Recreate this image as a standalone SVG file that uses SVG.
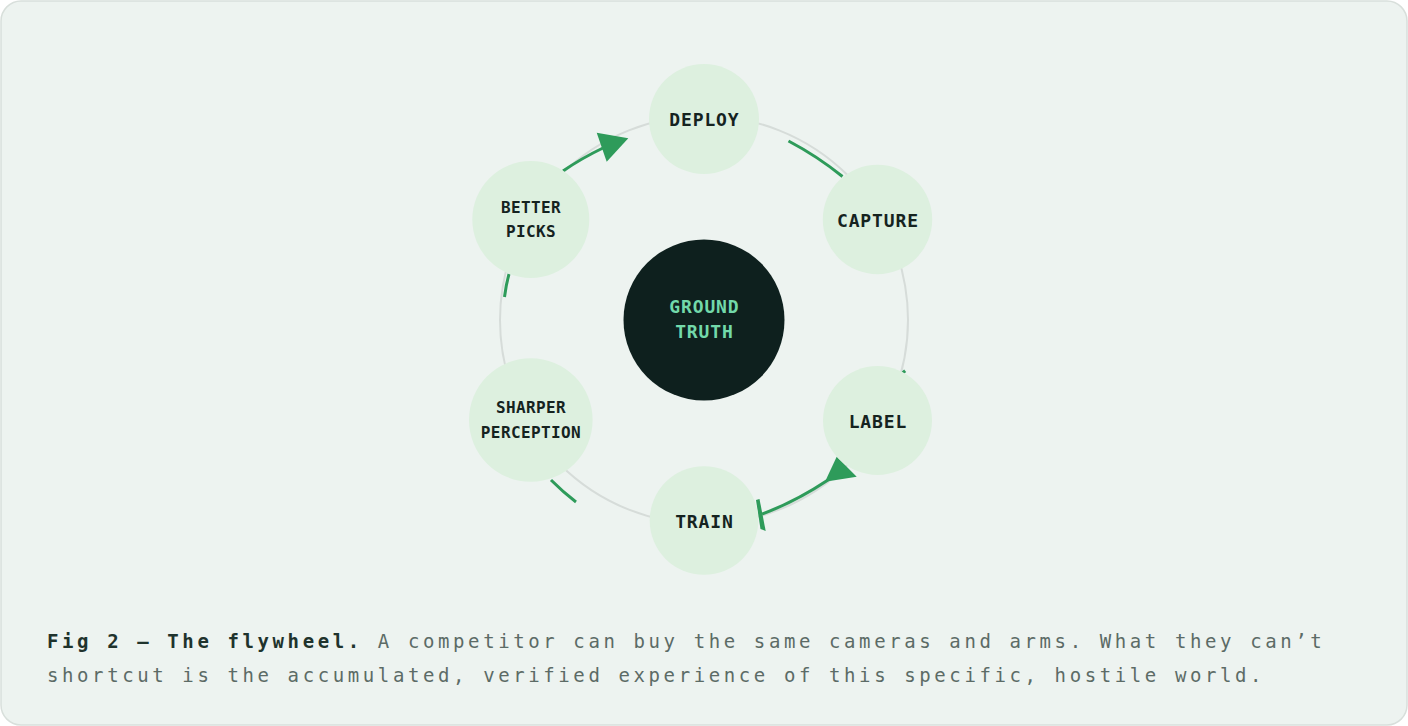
<svg xmlns="http://www.w3.org/2000/svg" width="1408" height="726" viewBox="0 0 1408 726">
  <defs>
    <style>
      .bg { fill: #EDF3F0; stroke: #D8DFDB; stroke-width: 1.5; }
      .ring { fill: none; stroke: #D6DCD9; stroke-width: 2; }
      .node { fill: #DDF0DF; }
      .hub { fill: #0E201E; }
      .lbl { font-family: "DejaVu Sans Mono", "Liberation Mono", monospace; font-weight: bold; fill: #15231F; text-anchor: middle; }
      .big { font-size: 18px; letter-spacing: 0.86px; }
      .small { font-size: 16px; letter-spacing: 0.4px; }
      .hubtxt { font-family: "DejaVu Sans Mono", "Liberation Mono", monospace; font-weight: bold; font-size: 18px; letter-spacing: 0.86px; fill: #72D9AA; text-anchor: middle; }
      .conn { fill: none; stroke: #2E9B5A; stroke-width: 3; stroke-linecap: butt; }
      .head { fill: #2E9B5A; }
      .cap { font-family: "DejaVu Sans Mono", "Liberation Mono", monospace; font-size: 19px; letter-spacing: 3.6px; fill: #5C6B66; }
      .capb { font-weight: bold; fill: #1F332D; }
    </style>
  </defs>

  <rect class="bg" x="1" y="1" width="1406" height="724" rx="20" ry="20"/>

  <circle class="ring" cx="704" cy="320" r="204"/>

  <g id="connectors">
    <path class="conn" d="M563 171 Q582 158 603 148"/>
    <polygon class="head" points="596.7,132.7 628.3,138.3 606.7,161.7"/>
    <path class="conn" d="M788.5 141 Q817 156 842.5 176.5"/>
    <path class="conn" d="M903 370.5 L905 373" stroke-width="2.5"/>
    <path class="conn" d="M762 514 Q795 502 828 480"/>
    <polygon class="head" points="836.7,456.7 856.7,476.7 825,481.7"/>
    <polygon class="head" points="756,500 759.5,499 765.7,531 760.5,529"/>
    <path class="conn" d="M509 274 Q506 285 504.5 297"/>
    <path class="conn" d="M551 480 Q563 492 576 502"/>
  </g>

  <g id="node-deploy">
    <circle class="node" cx="704" cy="119" r="55"/>
    <text class="lbl big" x="704.4" y="126">DEPLOY</text>
  </g>
  <g id="node-capture">
    <circle class="node" cx="877.5" cy="219.5" r="54.7"/>
    <text class="lbl big" x="877.9" y="227">CAPTURE</text>
  </g>
  <g id="node-label">
    <circle class="node" cx="877.5" cy="420.5" r="54.5"/>
    <text class="lbl big" x="877.9" y="428">LABEL</text>
  </g>
  <g id="node-train">
    <circle class="node" cx="704" cy="520.5" r="54.3"/>
    <text class="lbl big" x="704.4" y="528">TRAIN</text>
  </g>
  <g id="node-sharper-perception">
    <circle class="node" cx="530.8" cy="420" r="61.8"/>
    <text class="lbl small" x="531" y="413">SHARPER</text>
    <text class="lbl small" x="531" y="437.5">PERCEPTION</text>
  </g>
  <g id="node-better-picks">
    <circle class="node" cx="530.8" cy="219.5" r="58.5"/>
    <text class="lbl small" x="531" y="212.5">BETTER</text>
    <text class="lbl small" x="531" y="236.5">PICKS</text>
  </g>
  <g id="node-ground-truth">
    <circle class="hub" cx="704" cy="320" r="80.5"/>
    <text class="hubtxt" x="704.4" y="313">GROUND</text>
    <text class="hubtxt" x="704.4" y="337.5">TRUTH</text>
  </g>

  <g id="caption">
    <text class="cap" x="47" y="648"><tspan class="capb">Fig 2 — The flywheel.</tspan> A competitor can buy the same cameras and arms. What they can’t</text>
    <text class="cap" x="47" y="682">shortcut is the accumulated, verified experience of this specific, hostile world.</text>
  </g>
</svg>
